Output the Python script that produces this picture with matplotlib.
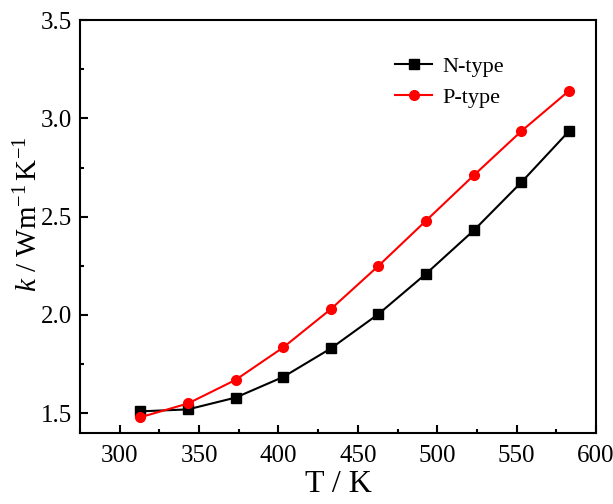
import matplotlib
matplotlib.use("Agg")
import matplotlib.pyplot as plt
from matplotlib.ticker import MultipleLocator

T = [313, 343, 373, 403, 433, 463, 493, 523, 553, 583]
k_n = [1.51, 1.52, 1.58, 1.685, 1.83, 2.005, 2.21, 2.43, 2.675, 2.935]
k_p = [1.48, 1.55, 1.67, 1.835, 2.03, 2.25, 2.48, 2.71, 2.935, 3.14]

plt.rcParams['font.family'] = ['Liberation Serif', 'DejaVu Serif']
plt.rcParams['mathtext.fontset'] = 'custom'
plt.rcParams['mathtext.rm'] = 'Liberation Serif'
plt.rcParams['mathtext.it'] = 'Liberation Serif:italic'

fig = plt.figure(figsize=(6.13, 5.04), dpi=100)
ax = fig.add_axes([0.1305, 0.1409, 0.8418, 0.8194])

ax.plot(T, k_n, color='black', marker='s', markersize=6.5, linewidth=1.5, label='N-type')
ax.plot(T, k_p, color='red', marker='o', markersize=7, linewidth=1.5, label='P-type')

ax.set_xlim(275, 600)
ax.set_ylim(1.4, 3.5)
ax.xaxis.set_major_locator(MultipleLocator(50))
ax.xaxis.set_minor_locator(MultipleLocator(25))
ax.set_yticks([1.5, 2.0, 2.5, 3.0, 3.5])
ax.set_yticklabels(['1.5', '2.0', '2.5', '3.0', '3.5'])
ax.yaxis.set_minor_locator(MultipleLocator(0.25))

ax.tick_params(which='major', direction='in', length=5.5, width=1.5, labelsize=18)
ax.tick_params(axis='x', which='major', pad=9)
ax.tick_params(axis='y', which='major', pad=6)
ax.tick_params(which='minor', direction='in', length=3, width=1.5)
for s in ax.spines.values():
    s.set_linewidth(1.5)

ax.set_xlabel('T / K', fontsize=23, labelpad=2)
ax.set_ylabel(r'$k$ / Wm$^{-1}$$\,$K$^{-1}$', fontsize=21)
ax.yaxis.set_label_coords(-0.072, 0.53)

ax.legend(loc='upper left', bbox_to_anchor=(0.571, 0.96), frameon=False, fontsize=16,
          handlelength=1.7, handletextpad=0.45, labelspacing=0.45)

fig.savefig('out.png', dpi=100)
